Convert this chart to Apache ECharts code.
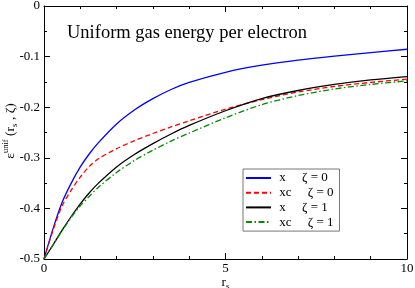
<!DOCTYPE html>
<html>
<head>
<meta charset="utf-8">
<script src="https://cdn.jsdelivr.net/npm/echarts@6/dist/echarts.min.js"></script>
<style>html,body{margin:0;padding:0;background:#fff;}#c{width:415px;height:288px;}</style>
</head>
<body>
<div id="c"></div>
<script>
const rs = [0, 0.25, 0.5, 0.75, 1, 1.25, 1.5, 2, 2.5, 3, 3.5, 4, 5, 6, 7, 8, 9, 10];
const xZeta0  = [-0.5, -0.44, -0.388, -0.35, -0.318, -0.292, -0.27, -0.233, -0.205, -0.183, -0.165, -0.151, -0.131, -0.117, -0.107, -0.099, -0.092, -0.0855];
const xcZeta0 = [-0.5, -0.443, -0.395, -0.364, -0.338, -0.317, -0.302, -0.282, -0.266, -0.252, -0.239, -0.227, -0.204, -0.185, -0.170, -0.159, -0.151, -0.1447];
const xZeta1  = [-0.5, -0.472, -0.443, -0.416, -0.391, -0.369, -0.35, -0.318, -0.293, -0.272, -0.253, -0.236, -0.207, -0.183, -0.167, -0.155, -0.146, -0.1395];
const xcZeta1 = [-0.5, -0.472, -0.444, -0.418, -0.395, -0.376, -0.358, -0.329, -0.305, -0.285, -0.267, -0.251, -0.221, -0.195, -0.177, -0.164, -0.155, -0.148];
const seriesNames = [' x     ζ = 0', ' xc     ζ = 0', ' x     ζ = 1', ' xc     ζ = 1'];
const titleText = 'Uniform gas energy per electron';
const yAxisTitle = '{m|ε}{sup|unif}{m| (r}{sub|s}{m| , ζ)}';
const xAxisTitle = '{m|r}{sub|s}';
const xTicks = [0, 5, 10];
const yTicks = [-0.5, -0.4, -0.3, -0.2, -0.1, 0];

const FONT = 'Liberation Serif';
const pair = (ys) => rs.map((x, i) => [x, ys[i]]);
const richStyles = {
  m: { fontFamily: FONT, fontSize: 13.5, fill: '#000', color: '#000', lineHeight: 18, verticalAlign: 'middle' },
  sup: { fontFamily: FONT, fontSize: 8.5, fill: '#000', color: '#000', lineHeight: 9, verticalAlign: 'top' },
  sub: { fontFamily: FONT, fontSize: 9, fill: '#000', color: '#000', lineHeight: 9, verticalAlign: 'bottom' }
};
const axisCommon = {
  type: 'value',
  nameMoveOverlap: false,
  axisLine: { show: true, onZero: false, lineStyle: { color: '#000', width: 1 } },
  axisTick: { show: true, inside: true, length: 6, lineStyle: { color: '#000', width: 1 } },
  minorTick: { show: true, length: 3, lineStyle: { color: '#000', width: 1 } },
  splitLine: { show: false },
  minorSplitLine: { show: false }
};
const chart = echarts.init(document.getElementById('c'), null, { renderer: 'canvas' });
chart.setOption({
  animation: false,
  backgroundColor: '#fff',
  title: {
    text: titleText, left: 67, top: 24, padding: 0,
    textStyle: { fontFamily: FONT, fontSize: 18.5, fontWeight: 'normal', color: '#000' }
  },
  grid: { left: 44, right: 8, top: 6, bottom: 29, containLabel: false, outerBoundsMode: 'none' },
  legend: {
    orient: 'vertical', left: 243, top: 169,
    itemWidth: 25, itemHeight: 12.5, itemGap: 1.7,
    padding: [2.5, 6, 2.5, 2],
    borderColor: '#777', borderWidth: 1, backgroundColor: '#fff',
    itemStyle: { opacity: 0 },
    textStyle: { fontFamily: FONT, fontSize: 13, color: '#000', lineHeight: 12.5 },
    data: seriesNames
  },
  graphic: [{
    type: 'text', x: 10, y: 131, rotation: Math.PI / 2, silent: true,
    style: { text: yAxisTitle, rich: richStyles, align: 'center', verticalAlign: 'middle', fill: '#000' }
  }],
  xAxis: [
    Object.assign({}, axisCommon, {
      min: xTicks[0], max: xTicks[xTicks.length - 1], interval: xTicks[1] - xTicks[0], position: 'bottom',
      minorTick: Object.assign({}, axisCommon.minorTick, { splitNumber: 5 }),
      axisLabel: { fontFamily: FONT, fontSize: 13, color: '#000', margin: 3 },
      name: xAxisTitle, nameLocation: 'middle', nameGap: 14,
      nameTextStyle: { rich: richStyles }
    }),
    Object.assign({}, axisCommon, {
      min: xTicks[0], max: xTicks[xTicks.length - 1], interval: xTicks[1] - xTicks[0], position: 'top',
      minorTick: Object.assign({}, axisCommon.minorTick, { splitNumber: 5 }),
      axisLabel: { show: false }
    })
  ],
  yAxis: [
    Object.assign({}, axisCommon, {
      min: yTicks[0], max: yTicks[yTicks.length - 1], interval: 0.1, position: 'left',
      minorTick: Object.assign({}, axisCommon.minorTick, { splitNumber: 2 }),
      axisLabel: { fontFamily: FONT, fontSize: 13, color: '#000', margin: 4,
        formatter: (v) => (Math.abs(v) < 1e-9 ? '0' : (+v.toFixed(1)).toString()) }
    }),
    Object.assign({}, axisCommon, {
      min: yTicks[0], max: yTicks[yTicks.length - 1], interval: 0.1, position: 'right',
      minorTick: Object.assign({}, axisCommon.minorTick, { splitNumber: 2 }),
      axisLabel: { show: false }
    })
  ],
  series: [
    { name: seriesNames[0], type: 'line', data: pair(xZeta0), symbol: 'none', smooth: 0.3, color: '#0000ff',
      lineStyle: { color: '#0000ff', width: 1.3, type: 'solid' } },
    { name: seriesNames[1], type: 'line', data: pair(xcZeta0), symbol: 'none', smooth: 0.3, color: '#ff0000',
      lineStyle: { color: '#ff0000', width: 1.3, type: [5, 3] } },
    { name: seriesNames[2], type: 'line', data: pair(xZeta1), symbol: 'none', smooth: 0.3, color: '#000000',
      lineStyle: { color: '#000000', width: 1.3, type: 'solid' } },
    { name: seriesNames[3], type: 'line', data: pair(xcZeta1), symbol: 'none', smooth: 0.3, color: '#008b00',
      lineStyle: { color: '#008b00', width: 1.3, type: [6, 2.5, 1.5, 2.5] } }
  ]
});
</script>
</body>
</html>
